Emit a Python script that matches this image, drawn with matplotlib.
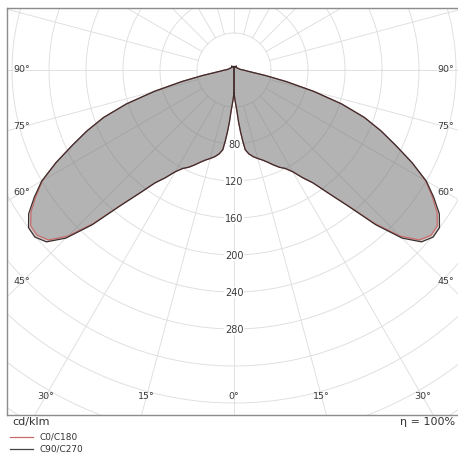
import numpy as np
import matplotlib
matplotlib.use("Agg")
import matplotlib.pyplot as plt

# ---- data (cd/klm vs gamma angle in degrees) ----
gamma = [0, 2, 4, 5, 6, 7, 8, 10, 12.5, 15, 17.5, 20, 22.5, 25, 27.5, 30, 32.5, 35,
         37.5, 40, 42.5, 45, 47.5, 50, 52.5, 55, 57.5, 60, 62.5, 65, 67.5, 70, 72.5,
         75, 77.5, 80, 82.5, 85, 87.5, 90, 95, 100, 110, 120, 130, 140, 150, 160,
         170, 180]
c90_c270 = [25, 33, 44, 56, 67, 77, 87, 92, 96, 99, 102, 106, 111, 116, 120, 127, 138,
            149, 168, 192, 227, 257, 275, 281, 280, 271, 256, 240, 217, 193, 172, 150,
            122, 89, 58, 35, 21, 15, 12, 10, 7, 6, 5, 4, 4, 4, 5, 3, 4, 3]
c0_c180 = [25, 33, 44, 56, 67, 77, 87, 92, 96, 99, 102, 106, 111, 116, 120, 127, 138,
           149, 168, 191, 225, 254, 272, 278, 277, 268, 254, 239, 217, 193, 172, 150,
           122, 89, 58, 35, 21, 15, 12, 10, 7, 6, 5, 4, 4, 4, 5, 3, 4, 3]
radius_ticks = [80, 120, 160, 200, 240, 280]
angle_ticks = [0, 15, 30, 45, 60, 75, 90]
legend_labels = ["C0/C180", "C90/C270"]

W, H = 458, 454
fig = plt.figure(figsize=(W / 100, H / 100), dpi=100)
scale = 0.925  # px per cd/klm
cx, cy = 234, 70
left_px, top_px, bottom_px = 7, 8, 415
ax_w_px = 2 * (cx - left_px)
ax = fig.add_axes([left_px / W, (H - bottom_px) / H, ax_w_px / W, (bottom_px - top_px) / H])
ax.set_xlim(-(cx - left_px) / scale, (cx - left_px) / scale)
ax.set_ylim(-(bottom_px - cy) / scale, (cy - top_px) / scale)
ax.set_xticks([])
ax.set_yticks([])
for s in ["left", "top", "bottom"]:
    ax.spines[s].set_color("#8c8c8c")
    ax.spines[s].set_linewidth(1.0)
ax.spines["right"].set_visible(False)

grid_c = "#dedede"
# circles
t = np.linspace(0, 2 * np.pi, 721)
for r in range(40, 521, 40):
    ax.plot(r * np.cos(t), r * np.sin(t), color=grid_c, lw=0.65, zorder=1)
# spokes
for a in range(0, 360, 15):
    ar = np.radians(a)
    ax.plot([40 * np.sin(ar), 700 * np.sin(ar)], [-40 * np.cos(ar), -700 * np.cos(ar)],
            color=grid_c, lw=0.65, zorder=1)

g = np.radians(np.array(gamma))


def half(vals, sign):
    v = np.array(vals, dtype=float)
    x = sign * v * np.sin(g)
    y = -v * np.cos(g)
    return np.append(x, x[0]), np.append(y, y[0])


for vals in (c0_c180, c90_c270):
    for sgn in (1, -1):
        x, y = half(vals, sgn)
        ax.fill(x, y, color="#707070", alpha=0.31, lw=0, zorder=2)

for vals, col, lw in ((c0_c180, "#c86a6a", 0.9), (c90_c270, "#3a2e2e", 0.9)):
    for sgn in (1, -1):
        x, y = half(vals, sgn)
        ax.plot(x, y, color=col, lw=lw, zorder=3, solid_joinstyle="round")

# radius labels
for r in radius_ticks:
    ax.text(0, -(r + 1), str(r), ha="center", va="center", fontsize=7, color="#3a3a3a",
            zorder=4, bbox=dict(boxstyle="square,pad=0.05", fc="white", ec="none"))

# angle labels
xb = (cx - 22) / scale
yb = (397 - cy) / scale
for a in angle_ticks:
    ar = np.radians(a)
    if a == 0:
        pts = [(0, -yb)]
    elif np.tan(ar) * yb <= xb:
        pts = [(-yb * np.tan(ar), -yb), (yb * np.tan(ar), -yb)]
    else:
        yy = 0 if a == 90 else -xb / np.tan(ar)
        pts = [(-xb, yy), (xb, yy)]
    for px, py in pts:
        ax.text(px, py, f"{a}°", ha="center", va="center", fontsize=6.8, color="#3a3a3a", zorder=4)

fig.text(12 / W, 1 - 422 / H, "cd/klm", ha="left", va="center", fontsize=8, color="#333333")
fig.text(455 / W, 1 - 422 / H, "η = 100%", ha="right", va="center", fontsize=8, color="#333333")

# legend
for i, (lab, col) in enumerate(zip(legend_labels, ["#c86a6a", "#444444"])):
    yy = 1 - (437 + 12 * i) / H
    fig.add_artist(plt.Line2D([10 / W, 33 / W], [yy, yy], color=col, lw=0.9))
    fig.text(40 / W, yy, lab, ha="left", va="center", fontsize=6.4, color="#333333")

fig.savefig("out.png", dpi=100)
